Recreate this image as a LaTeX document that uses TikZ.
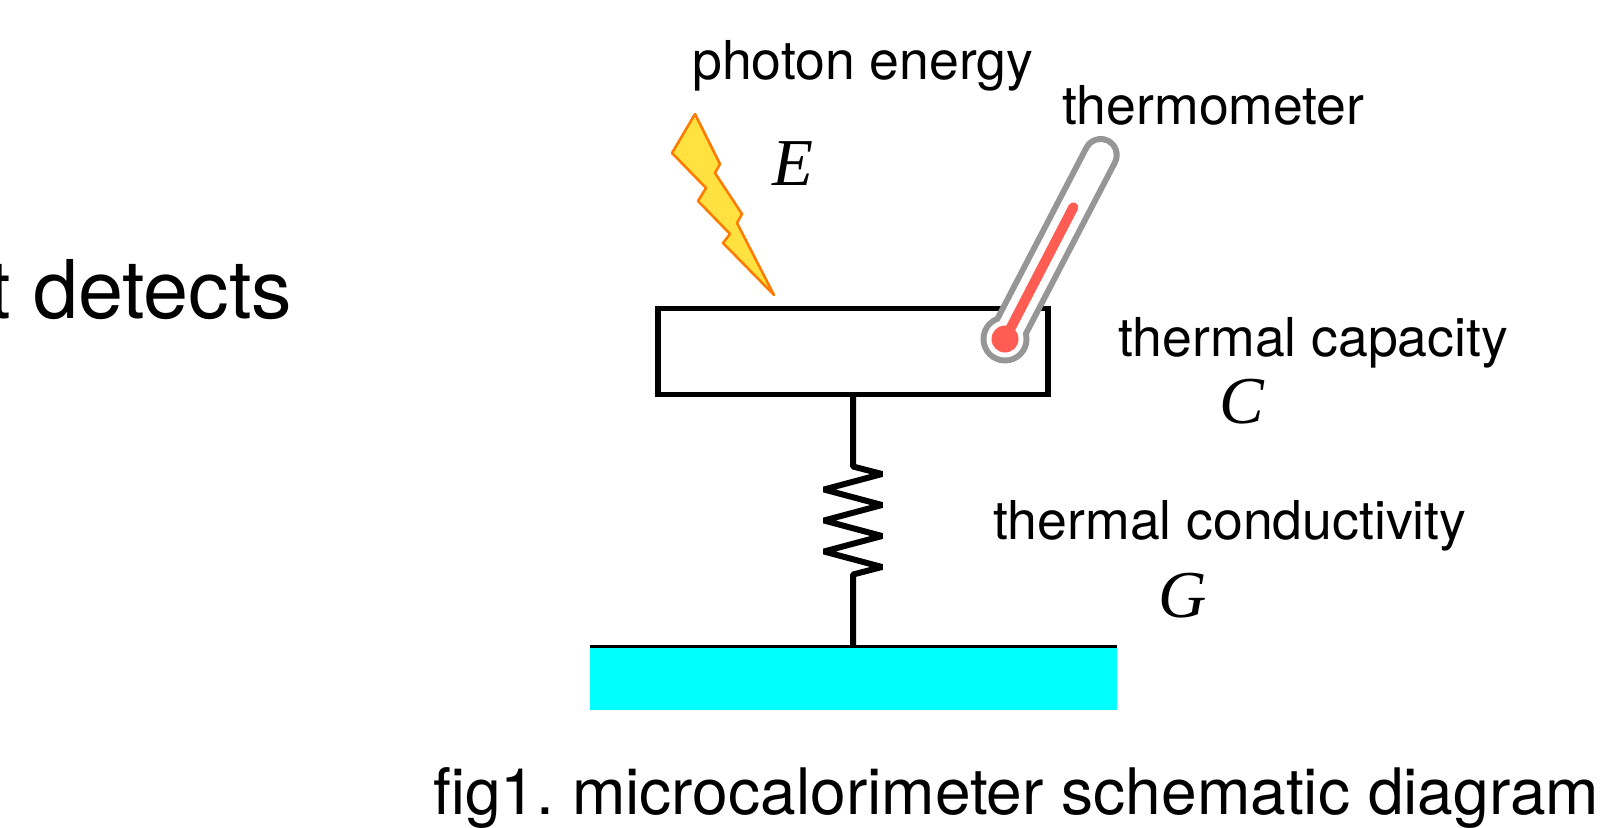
\documentclass[tikz,border=0pt]{standalone}
\usepackage{tikz}
\usepackage{xcolor}
\usepackage{fontspec}
\setmainfont{TeX Gyre Heros}
\newfontfamily\symbfont{Liberation Serif}
\frenchspacing
\definecolor{boltfill}{RGB}{255,226,64}
\definecolor{boltline}{RGB}{255,122,0}
\definecolor{tubeline}{RGB}{150,150,150}
\definecolor{mercury}{RGB}{255,92,84}
\definecolor{groundfill}{RGB}{0,255,255}
\tikzset{
    labeltext/.style={anchor=base west,inner sep=0pt,font=\fontsize{53.6}{60}\selectfont},
    symbtext/.style={anchor=base west,inner sep=0pt,font=\fontsize{67}{70}\symbfont\itshape},
    bigtext/.style={anchor=base west,inner sep=0pt,font=\fontsize{64.1}{70}\selectfont},
}

\begin{document}
\begin{tikzpicture}[x=1pt,y=-1pt]
    \useasboundingbox (0,0) rectangle (1602,827);
    \node[anchor=base east,inner sep=0pt,font=\fontsize{81}{90}\selectfont] (detects) at (292.5,318) {t detects};
    % bolt
    \draw[line width=2.5,color=boltline,fill=boltfill,line join=round]
        (695,114) -- (720,164) -- (715,173) -- (742,214) -- (737,223) -- (774,295)
        -- (723,243) -- (730,234) -- (698,201) -- (706,188) -- (672,153) -- cycle;
    \node[labeltext] (photon) at (692,79) {photon energy};
    \node[symbtext] (energy) at (772,185) {E};
    % box, ground, spring
    \node[draw,line width=5.5,outer sep=0pt,minimum width=390,minimum height=86] (box) at (853,351.5) {};
    \node[fill=groundfill,outer sep=0pt,minimum width=527,minimum height=63] (ground) at (853,678) {};
    \draw[line width=3.5] (ground.north west) -- (ground.north east);
    \draw[line width=6,line join=bevel] (box.south) -- ++(0,72) -- ++(29,7.5)
        -- ++(-58,15.5) -- ++(58,15.5) -- ++(-58,15.5) -- ++(58,15.5) -- ++(-58,15.5) -- ++(58,15.5)
        -- ++(-29,7.5) -- (ground.north);
    % thermometer
    \coordinate (bulb) at (1005,339);
    \coordinate (tubetop) at (1100.7,155);
    \coordinate (redtop) at (1073.3,207.3);
    \draw[line width=38,line cap=round,color=tubeline] (bulb) -- (tubetop);
    \fill[tubeline] (bulb) circle (24.5);
    \draw[line width=26,line cap=round,color=white] (bulb) -- (tubetop);
    \fill[white] (bulb) circle (18.5);
    \draw[line width=10,line cap=round,color=mercury] (bulb) -- (redtop);
    \fill[mercury] (bulb) circle (13.5);
    \node[labeltext] (thermometer) at (1062,124) {thermometer};
    \node[labeltext] (capacity) at (1118,356) {thermal capacity};
    \node[symbtext] (capsymb) at (1219,423) {C};
    \node[labeltext] (conduct) at (993,539.5) {thermal conductivity};
    \node[symbtext] (condsymb) at (1158,617.5) {G};
    \node[bigtext] (caption) at (433,814) {fig1. microcalorimeter schematic diagram};
\end{tikzpicture}
\end{document}
